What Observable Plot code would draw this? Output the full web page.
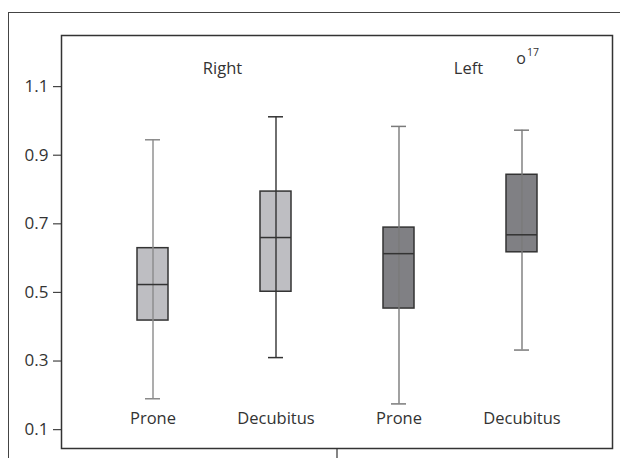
<!DOCTYPE html>
<html>
<head>
<meta charset="utf-8">
<script src="https://cdn.jsdelivr.net/npm/d3@7"></script>
<script src="https://cdn.jsdelivr.net/npm/@observablehq/plot@0.6"></script>
<style>
  body { margin: 0; background: #fff; }
  #wrap { position: relative; width: 620px; height: 458px; overflow: hidden; }
  #outer { position: absolute; left: 8px; top: 12px; width: 620px; height: 460px; border-left: 1px solid #444; border-top: 1px solid #444; }
  #chart { position: absolute; left: 0; top: 0; }
</style>
</head>
<body>
<div id="wrap"><div id="outer"></div><div id="chart"></div></div>
<script>
const categories = ["Right Prone", "Right Decubitus", "Left Prone", "Left Decubitus"];
const tickLabels = ["Prone", "Decubitus", "Prone", "Decubitus"];
const sides = ["Right", "Right", "Left", "Left"];
const mins = [0.19, 0.31, 0.175, 0.332];
const q1s = [0.418, 0.502, 0.453, 0.617];
const medians = [0.523, 0.66, 0.613, 0.668];
const q3s = [0.629, 0.794, 0.689, 0.843];
const maxs = [0.945, 1.012, 0.984, 0.973];
const boxColors = ["#bebec2", "#bebec2", "#808084", "#808084"];
const whiskerColors = ["#8a8a8a", "#333333", "#7a7a7a", "#7a7a7a"];
const yTicks = [0.1, 0.3, 0.5, 0.7, 0.9, 1.1];
const groupNames = ["Right", "Left"];
const groupAnchors = ["Right Prone", "Left Prone"];
const outliers = [{cat: "Left Decubitus", value: 1.182, id: "17"}];

const data = categories.map((c, i) => ({
  cat: c, label: tickLabels[i], side: sides[i],
  min: mins[i], q1: q1s[i], median: medians[i], q3: q3s[i], max: maxs[i],
  color: boxColors[i], wcolor: whiskerColors[i]
}));
const groups = groupNames.map((g, i) => ({name: g, cat: groupAnchors[i]}));

const plot = Plot.plot({
  width: 620,
  height: 458,
  marginLeft: 61,
  marginTop: 35,
  marginRight: 8,
  marginBottom: 10,
  style: {fontFamily: "'Open Sans', sans-serif", fontSize: "16px", color: "#333", background: "transparent"},
  x: {type: "band", domain: categories, paddingInner: 0, paddingOuter: 0.226, axis: null},
  y: {domain: [0.045, 1.249], label: null, axis: null},
  marks: [
    Plot.axisY(yTicks, {tickSize: 8, tickPadding: 5, tickFormat: d3.format(".1f"), fontSize: 17, stroke: "#444", strokeWidth: 1.2, fill: "#333"}),
    Plot.barY(data, {x: "cat", y1: "q1", y2: "q3", fill: d => d.color, stroke: "#333", strokeWidth: 1.5, insetLeft: 46, insetRight: 46}),
    Plot.ruleX(data, {x: "cat", y1: "min", y2: "max", stroke: d => d.wcolor, strokeWidth: 1.4}),
    Plot.tickY(data, {x: "cat", y: "median", stroke: "#333", strokeWidth: 1.5, insetLeft: 46, insetRight: 46}),
    Plot.tickY(data, {x: "cat", y: "min", stroke: d => d.wcolor, strokeWidth: 1.5, insetLeft: 54, insetRight: 54}),
    Plot.tickY(data, {x: "cat", y: "max", stroke: d => d.wcolor, strokeWidth: 1.5, insetLeft: 54, insetRight: 54}),
    Plot.text(data, {x: "cat", text: "label", frameAnchor: "bottom", dy: -25, fontSize: 16.5, fill: "#333"}),
    Plot.text(groups, {x: "cat", text: "name", frameAnchor: "top", dy: 26.5, dx: 69.5, fontSize: 16.5, fill: "#333"}),
    Plot.text(outliers, {x: "cat", y: "value", text: () => "o", dx: -1, fontSize: 16, fill: "#333"}),
    Plot.text(outliers, {x: "cat", y: "value", text: "id", dx: 11, dy: -6, fontSize: 10.5, fill: "#333"}),
    Plot.frame({stroke: "#333", strokeWidth: 1.5})
  ]
});

// small separator tick below the frame between the two groups
const xs = plot.scale("x");
const xm = xs.apply("Left Prone");
d3.select(plot).append("line")
  .attr("x1", xm).attr("x2", xm)
  .attr("y1", 458 - 10).attr("y2", 458)
  .attr("stroke", "#333").attr("stroke-width", 1.2);

document.getElementById("chart").appendChild(plot);
</script>
</body>
</html>
